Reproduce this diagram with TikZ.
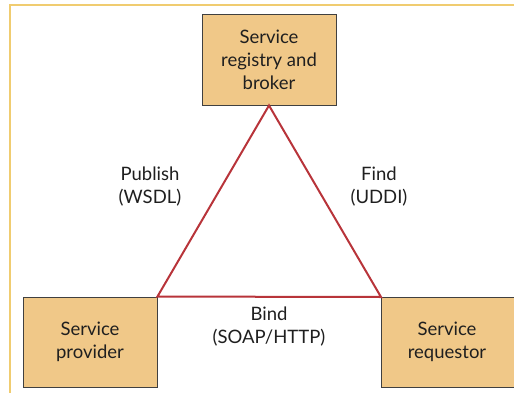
\documentclass[tikz,border=0pt]{standalone}
\usepackage{fontspec}
\setmainfont{Lato}
\begin{document}
\begin{tikzpicture}[x=1pt,y=1pt,
  box/.style={draw=black!75,line width=0.9pt,fill=boxfill,inner sep=0pt,align=center,
    font=\fontsize{18.5}{23}\selectfont,text=black!88},
  lbl/.style={align=center,font=\fontsize{18.5}{23}\selectfont,text=black!88},
  tri/.style={draw=trired,line width=2pt,line join=miter}]
\definecolor{boxfill}{HTML}{F0C888}
\definecolor{trired}{HTML}{B8343A}
\definecolor{framec}{HTML}{F0CC70}
\useasboundingbox (0,0) rectangle (514,392);
\begin{scope}
\clip (0,0) rectangle (514,392);
\draw[framec,line width=1.5pt] (10,-5) -- (10,387) -- (530,387);
\node[box,minimum width=134pt,minimum height=91pt] (reg) at (269,332.5) {Service\\registry and\\broker};
\node[box,minimum width=134pt,minimum height=90pt] (prov) at (90,50) {Service\\provider};
\node[box,minimum width=150pt,minimum height=90pt,anchor=north west] (req) at (381,95) {};
\node[lbl] at (447,50) {Service\\requestor};
\coordinate (apex) at (reg.south);
\coordinate (bl) at (prov.north east);
\coordinate (br) at (req.north west);
\draw[tri] (apex) -- (bl) -- (br) -- cycle;
\node[lbl] (pub) at (150,205.5) {Publish\\(WSDL)};
\node[lbl] (find) at (379,205.5) {Find\\(UDDI)};
\node[lbl] (bind) at (269,65.5) {Bind\\(SOAP/HTTP)};
\end{scope}
\end{tikzpicture}
\end{document}
